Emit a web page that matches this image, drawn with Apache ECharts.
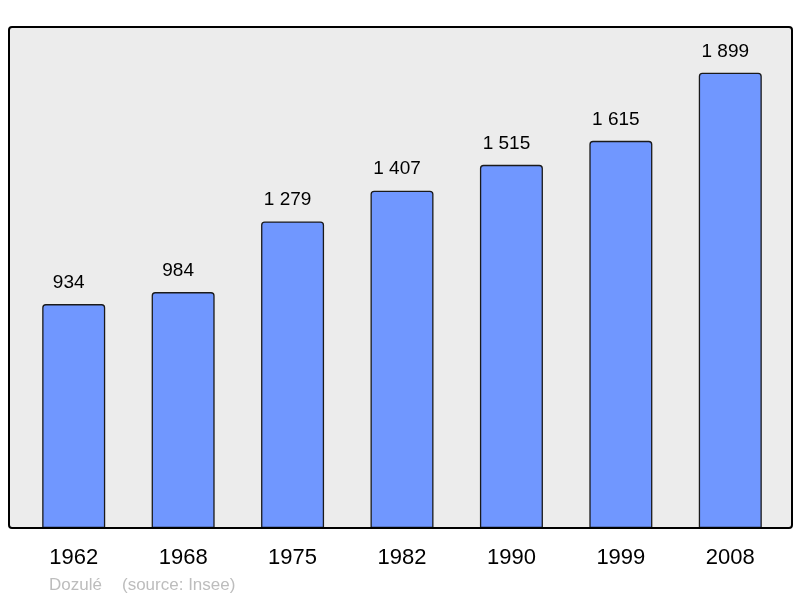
<!DOCTYPE html>
<html>
<head>
<meta charset="utf-8">
<script src="https://cdn.jsdelivr.net/npm/echarts@6/dist/echarts.min.js"></script>
<style>
  html, body { margin: 0; padding: 0; background: #fff; }
  #main { width: 800px; height: 598px; }
</style>
</head>
<body>
<div id="main"></div>
<script>
// données de population
var years = ['1962', '1968', '1975', '1982', '1990', '1999', '2008'];
var population = [934, 984, 1279, 1407, 1515, 1615, 1899];

var chart = echarts.init(document.getElementById('main'));

function fmt(v) {
    return String(v).replace(/\B(?=(\d{3})+(?!\d))/g, ' ');
}

chart.setOption({
    animation: false,
    textStyle: { fontFamily: 'Liberation Sans, Arial, sans-serif' },
    grid: { left: 19, right: 15, top: 27, bottom: 70 },
    xAxis: {
        type: 'category',
        data: years,
        axisLine: { show: false },
        axisTick: { show: false },
        axisLabel: { color: '#000', fontSize: 22, margin: 19 }
    },
    yAxis: {
        type: 'value',
        min: 0,
        max: 2090,
        show: false,
        splitLine: { show: false }
    },
    graphic: [
        {
            type: 'rect', z: -10, silent: true,
            shape: { x: 9, y: 27, width: 783, height: 501, r: 3 },
            style: { fill: '#ececec', stroke: null }
        },
        {
            type: 'rect', z: 100, silent: true,
            shape: { x: 9, y: 27, width: 783, height: 501, r: 3 },
            style: { fill: null, stroke: '#000', lineWidth: 2 }
        },
        {
            type: 'text', left: 49, top: 577,
            style: { text: 'Dozulé', fill: '#bdbdbd', font: '17px Liberation Sans, Arial, sans-serif' }
        },
        {
            type: 'text', left: 122, top: 577,
            style: { text: '(source: Insee)', fill: '#bdbdbd', font: '17px Liberation Sans, Arial, sans-serif' }
        }
    ],
    series: [
        {
            type: 'bar',
            data: population,
            barWidth: 63,
            itemStyle: {
                color: '#7097ff',
                borderColor: '#1a1a1a',
                borderWidth: 1.3,
                borderRadius: [3, 3, 0, 0]
            },
            label: {
                show: true,
                position: 'top',
                distance: 12,
                offset: [-5, 0],
                color: '#000',
                fontSize: 19,
                formatter: function (p) { return fmt(p.value); }
            }
        }
    ]
});
</script>
</body>
</html>
